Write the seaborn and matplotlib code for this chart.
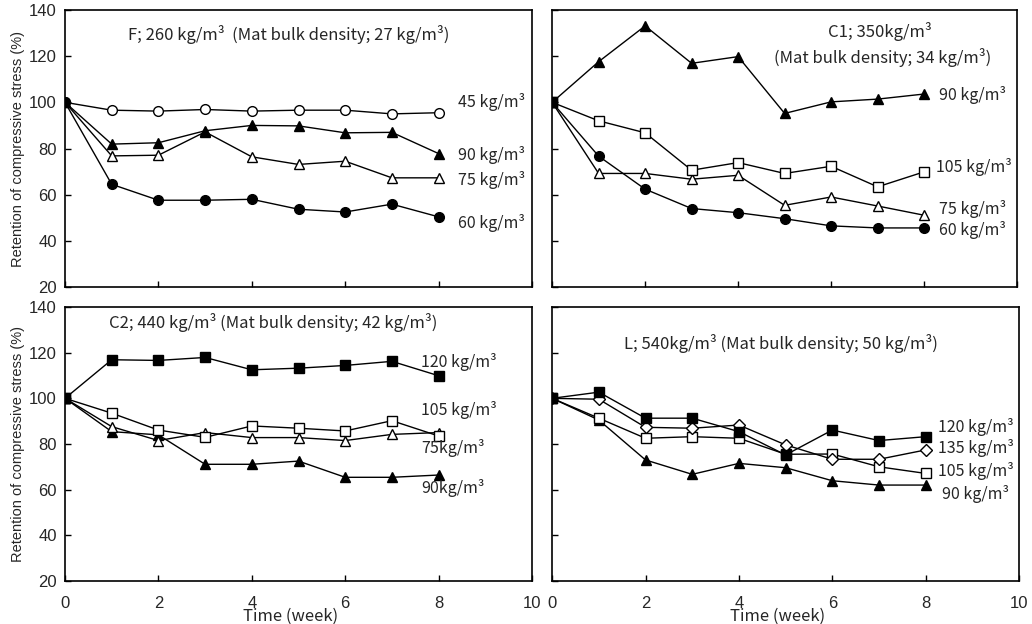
import matplotlib
matplotlib.use("Agg")
from matplotlib import pyplot
import seaborn

# weeks of exposure
weeks = [0, 1, 2, 3, 4, 5, 6, 7, 8]

# F; 260 kg/m3
f_45 = [100, 96.6, 96.2, 96.9, 96.2, 96.6, 96.6, 95.0, 95.5]
f_90 = [100, 81.9, 82.5, 87.7, 90.0, 89.8, 86.8, 87.0, 77.8]
f_75 = [100, 76.8, 77.1, 87.2, 76.4, 73.1, 74.5, 67.3, 67.3]
f_60 = [100, 64.5, 57.6, 57.6, 58.0, 53.7, 52.5, 55.9, 50.4]

# C1; 350 kg/m3
c1_90 = [100, 117.6, 133.1, 116.9, 119.8, 95.2, 100.2, 101.4, 103.6]
c1_105 = [100, 92.0, 86.8, 70.6, 73.9, 69.2, 72.3, 63.4, 69.9]
c1_75 = [100, 69.2, 69.2, 66.7, 68.4, 55.4, 59.0, 55.1, 51.1]
c1_60 = [100, 76.7, 62.4, 54.0, 52.2, 49.6, 46.5, 45.6, 45.6]

# C2; 440 kg/m3
c2_120 = [100, 116.9, 116.6, 117.9, 112.5, 113.2, 114.4, 116.2, 109.9]
c2_105 = [100, 93.5, 86.1, 82.9, 87.9, 86.9, 85.7, 90.2, 83.5]
c2_75 = [100, 87.6, 81.5, 85.0, 82.8, 82.8, 81.5, 84.2, 85.0]
c2_90 = [100, 85.4, 84.0, 71.1, 71.1, 72.5, 65.4, 65.4, 66.4]

# L; 540 kg/m3
l_120 = [100, 102.7, 91.3, 91.3, 85.4, 75.2, 86.1, 81.5, 83.2]
l_135 = [100, 99.6, 87.3, 86.9, 88.3, 79.6, 73.3, 73.3, 77.4]
l_105 = [100, 91.3, 82.5, 83.2, 82.5, 75.5, 75.6, 70.0, 67.1]
l_90 = [100, 90.5, 73.0, 66.7, 71.5, 69.6, 63.9, 62.0, 62.0]

seaborn.set_style("ticks")
pyplot.rcParams["font.family"] = ["Liberation Sans", "DejaVu Sans"]
jp = ["Noto Sans CJK JP", "DejaVu Sans"]

# marker styles: (marker, filled)
OPEN_CIRCLE = ("o", False)
FULL_CIRCLE = ("o", True)
OPEN_TRI = ("^", False)
FULL_TRI = ("^", True)
OPEN_SQ = ("s", False)
FULL_SQ = ("s", True)
OPEN_DIA = ("D", False)

fig = pyplot.figure(figsize=(10.32, 6.24), dpi=100)
axes = [
    fig.add_axes([0.063, 0.540, 0.4525, 0.444]),
    fig.add_axes([0.535, 0.540, 0.4506, 0.444]),
    fig.add_axes([0.063, 0.069, 0.4525, 0.439]),
    fig.add_axes([0.535, 0.069, 0.4525, 0.439]),
]


def seria(ax, values, style, size=7):
    marker, filled = style
    ms = size - 1 if marker == "D" else size
    seaborn.lineplot(
        x=weeks,
        y=values,
        ax=ax,
        color="black",
        linewidth=1.0,
        marker=marker,
        markersize=ms,
        markerfacecolor="black" if filled else "white",
        markeredgecolor="black",
        markeredgewidth=1.0,
    )


def opis(ax, x, y, tekst, size=11.5, **kw):
    ax.text(x, y, tekst, fontsize=size, family=jp, va="center", **kw)


# panel F
ax = axes[0]
seria(ax, f_45, OPEN_CIRCLE)
seria(ax, f_75, OPEN_TRI)
seria(ax, f_90, FULL_TRI)
seria(ax, f_60, FULL_CIRCLE)
opis(ax, 8.42, 100.2, "45 kg/m³")
opis(ax, 8.42, 77.1, "90 kg/m³")
opis(ax, 8.42, 66.5, "75 kg/m³")
opis(ax, 8.42, 47.8, "60 kg/m³")
opis(ax, 4.8, 129.2, "F; 260 kg/m³  (Mat bulk density; 27 kg/m³)", size=12, ha="center")

# panel C1
ax = axes[1]
seria(ax, c1_75, OPEN_TRI)
seria(ax, c1_60, FULL_CIRCLE)
seria(ax, c1_105, OPEN_SQ)
seria(ax, c1_90, FULL_TRI)
ax.plot(weeks[:1], c1_90[:1], marker="s", markersize=7, color="black", linestyle="none")
opis(ax, 8.32, 103.1, "90 kg/m³")
opis(ax, 8.25, 72.0, "105 kg/m³")
opis(ax, 8.32, 54.0, "75 kg/m³")
opis(ax, 8.32, 44.6, "60 kg/m³")
opis(ax, 7.05, 130.6, "C1; 350kg/m³", size=12, ha="center")
opis(ax, 7.1, 119.5, "(Mat bulk density; 34 kg/m³)", size=12, ha="center")

# panel C2
ax = axes[2]
seria(ax, c2_90, FULL_TRI)
seria(ax, c2_75, OPEN_TRI)
seria(ax, c2_105, OPEN_SQ)
seria(ax, c2_120, FULL_SQ)
opis(ax, 7.62, 116.1, "120 kg/m³")
opis(ax, 7.62, 94.9, "105 kg/m³")
opis(ax, 7.62, 78.1, "75kg/m³")
opis(ax, 7.62, 60.5, "90kg/m³")
opis(ax, 4.45, 133.0, "C2; 440 kg/m³ (Mat bulk density; 42 kg/m³)", size=12, ha="center")

# panel L
ax = axes[3]
seria(ax, l_90, FULL_TRI)
seria(ax, l_105, OPEN_SQ)
seria(ax, l_135, OPEN_DIA)
seria(ax, l_120, FULL_SQ)
opis(ax, 8.27, 87.6, "120 kg/m³")
opis(ax, 8.27, 78.1, "135 kg/m³")
opis(ax, 8.27, 68.3, "105 kg/m³")
opis(ax, 8.35, 58.3, "90 kg/m³")
opis(ax, 4.89, 124.2, "L; 540kg/m³ (Mat bulk density; 50 kg/m³)", size=12, ha="center")

for i, ax in enumerate(axes):
    ax.set_xlim(0, 10)
    ax.set_ylim(20, 140)
    ax.set_xticks([0, 2, 4, 6, 8, 10])
    ax.set_yticks([20, 40, 60, 80, 100, 120, 140])
    ax.tick_params(direction="in", length=4, width=1, labelsize=12, color="black")
    ax.tick_params(axis="y", pad=6)
    for s in ax.spines.values():
        s.set_visible(True)
        s.set_linewidth(1.2)
        s.set_color("black")
    if i < 2:
        ax.tick_params(labelbottom=False)
    else:
        ax.tick_params(axis="x", pad=11)
        ax.set_xlabel("Time (week)", family=jp, fontsize=12)
        ax.xaxis.set_label_coords(0.483, -0.097)
    if i % 2 == 1:
        ax.tick_params(labelleft=False)
    else:
        ax.set_ylabel("Retention of compressive stress (%)", fontsize=10.5, labelpad=3)

fig.savefig("out.png", dpi=100)
